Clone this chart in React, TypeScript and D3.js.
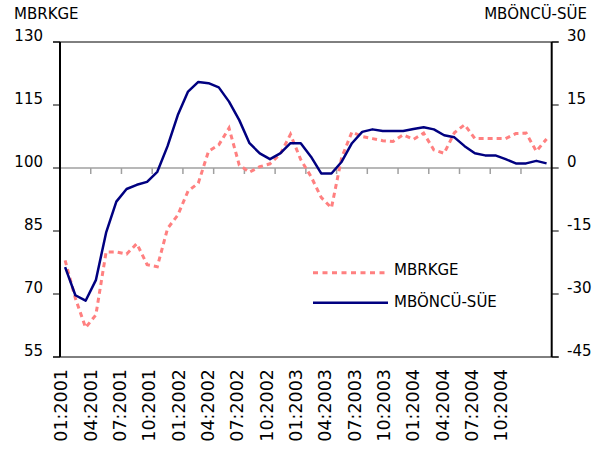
import React from "react";
import * as d3 from "d3";

const years = ["2001", "2002", "2003", "2004"];
const monthNums = ["01", "02", "03", "04", "05", "06", "07", "08", "09", "10", "11", "12"];
const categories: string[] = years.flatMap((y) => monthNums.map((m) => `${m}:${y}`));

const tickLabels = [
  "01:2001", "04:2001", "07:2001", "10:2001",
  "01:2002", "04:2002", "07:2002", "10:2002",
  "01:2003", "04:2003", "07:2003", "10:2003",
  "01:2004", "04:2004", "07:2004", "10:2004",
];

const leftTicks = [130, 115, 100, 85, 70, 55];
const rightTicks = [30, 15, 0, -15, -30, -45];

// MBRKGE (left axis)
const mbrkge = [
  78, 69, 62, 65, 80, 80, 79.5, 82, 77, 76.5, 85.6, 88.8,
  94.5, 96.4, 104, 105.5, 109.5, 100.7, 99, 100.3, 101, 103.3, 108, 102,
  98, 93, 90.5, 102.5, 108.6, 107.5, 107, 106.5, 106.3, 107.9, 106.8, 108.3,
  104.3, 103.5, 108.4, 110.3, 107, 107, 107, 107, 108.2, 108.3, 104, 106.9,
];

// MBÖNCÜ-SÜE (right axis)
const mboncu = [
  -23.6, -30.3, -31.6, -26.7, -15.4, -8.0, -5.0, -4.0, -3.3, -0.9, 5.2, 12.6,
  18.2, 20.5, 20.2, 19.2, 15.8, 11.4, 5.9, 3.5, 2.1, 3.5, 5.9, 5.9,
  2.7, -1.3, -1.3, 1.5, 5.9, 8.6, 9.2, 8.8, 8.8, 8.8, 9.3, 9.7,
  9.2, 7.8, 7.3, 5.2, 3.5, 3.0, 3.0, 2.1, 1.1, 1.1, 1.7, 1.1,
];

const FONT = "'DejaVu Sans', Verdana, sans-serif";

export default function App() {
  const left = 60, right = 551.7, top = 42, bottom = 357;
  const x = d3.scaleBand<string>().domain(categories).range([left, right]).padding(0);
  const yL = d3.scaleLinear().domain([55, 130]).range([bottom, top]);
  const yR = d3.scaleLinear().domain([-45, 30]).range([bottom, top]);
  const cx = (i: number) => (x(categories[i]) as number) + x.bandwidth() / 2;
  const xl = d3.scalePoint<string>().domain(tickLabels).range([61, 501]);

  const lineL = d3.line<number>().x((_, i) => cx(i)).y((d) => yL(d));
  const lineR = d3.line<number>().x((_, i) => cx(i)).y((d) => yR(d));
  const zeroY = yR(0);
  const tickIdx = d3.range(3, 48, 3);

  return (
    <svg width={606} height={451} style={{ position: "absolute", left: 0, top: 0, background: "#fff" }} fontFamily={FONT}>
      {/* zero line */}
      <line x1={left} x2={right} y1={zeroY} y2={zeroY} stroke="#a0a0a0" strokeWidth={1.5} />
      {tickIdx.map((k) => {
        const xx = x(categories[k]) as number;
        return <line key={k} x1={xx} x2={xx} y1={zeroY} y2={zeroY + 6} stroke="#a0a0a0" strokeWidth={1.5} />;
      })}
      {/* frame */}
      <line x1={left - 7} x2={right + 7} y1={top} y2={top} stroke="#000" strokeWidth={1} />
      <line x1={left - 7} x2={right + 7} y1={bottom} y2={bottom} stroke="#000" strokeWidth={1} />
      <line x1={left} x2={left} y1={top} y2={bottom} stroke="#000" strokeWidth={2} />
      <line x1={right} x2={right} y1={top} y2={bottom} stroke="#000" strokeWidth={2} />
      {leftTicks.map((t) => (
        <g key={"l" + t}>
          <line x1={left - 7} x2={left} y1={yL(t)} y2={yL(t)} stroke="#000" strokeWidth={1} />
          <text x={43} y={yL(t) - 1} textAnchor="end" fontSize={15} fill="#000">{t}</text>
        </g>
      ))}
      {rightTicks.map((t) => (
        <g key={"r" + t}>
          <line x1={right} x2={right + 7} y1={yR(t)} y2={yR(t)} stroke="#000" strokeWidth={1} />
          <text x={567} y={yR(t) - 1} textAnchor="start" fontSize={15} fill="#000">{t}</text>
        </g>
      ))}
      {/* series */}
      <path d={lineL(mbrkge) as string} fill="none" stroke="#ff8080" strokeWidth={3} strokeDasharray="5,4" />
      <path d={lineR(mboncu) as string} fill="none" stroke="#000080" strokeWidth={2.5} strokeLinejoin="round" />
      {/* titles */}
      <text x={14} y={19} fontSize={15} fill="#000">MBRKGE</text>
      <text x={587} y={19} fontSize={15} fill="#000" textAnchor="end">MBÖNCÜ-SÜE</text>
      {/* x labels */}
      {tickLabels.map((l) => (
        <text key={l} transform={`translate(${xl(l)},369) rotate(-90)`} textAnchor="end" dy="0.36em" fontSize={17.5} fill="#000">{l}</text>
      ))}
      {/* legend */}
      <line x1={313} x2={388} y1={272.7} y2={272.7} stroke="#ff8080" strokeWidth={3} strokeDasharray="5,4.5" />
      <text x={394} y={275} fontSize={15} fill="#000">MBRKGE</text>
      <line x1={313} x2={388} y1={302.7} y2={302.7} stroke="#000080" strokeWidth={2.5} />
      <text x={394} y={307} fontSize={15} fill="#000">MBÖNCÜ-SÜE</text>
    </svg>
  );
}
